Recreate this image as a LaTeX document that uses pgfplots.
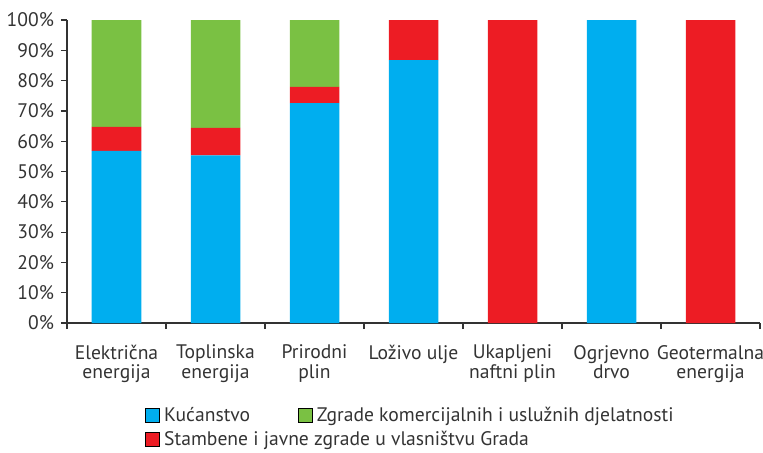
\documentclass[border=0pt]{standalone}
\usepackage{pgfplots}
\pgfplotsset{compat=1.18}
\usepackage{fontspec}
\setmainfont{PT Sans}
\definecolor{cblue}{RGB}{0,174,239}
\definecolor{cred}{RGB}{237,28,36}
\definecolor{cgreen}{RGB}{122,193,67}
\definecolor{ctext}{RGB}{51,51,51}
\begin{document}
\begin{tikzpicture}
\begin{axis}[
  scale only axis,
  width=346.5pt, height=151.5pt,
  ybar stacked, bar width=0.5,
  xmin=-0.5, xmax=6.5, ymin=0, ymax=100,
  axis x line*=bottom, axis y line*=left,
  axis line style={ctext, line width=0.6pt},
  xtick={0,...,6},
  xticklabels={{Električna\\energija},{Toplinska\\energija},{Prirodni\\plin},{Loživo ulje},{Ukapljeni\\naftni plin},{Ogrjevno\\drvo},{Geotermalna\\energija}},
  major x tick style={draw=none},
  minor xtick={-0.5,0.5,...,6.5},
  minor x tick style={ctext, line width=0.6pt},
  minor tick length=3pt,
  ytick={0,10,...,100},
  y tick style={ctext, line width=0.6pt},
  major tick length=3pt,
  tick align=outside,
  yticklabel={\pgfmathprintnumber{\tick}\%},
  /pgf/number format/assume math mode=true,
  ticklabel style={font=\fontsize{9.8}{9.6}\selectfont, text=ctext},
  xticklabel style={align=center, yshift=-4.5pt},
  legend style={draw=none, fill=none, at={(0.1126,-0.262)}, anchor=north west,
    font=\fontsize{9.8}{10}\selectfont, text=ctext, inner sep=0pt,
    row sep=-0.5pt,
    /tikz/every even column/.append style={column sep=22pt}},
  legend columns=2,
  legend cell align=left,
  legend image code/.code={\fill[#1] (0pt,-3.5pt) rectangle (7pt,3.5pt);},
]
\addplot[fill=cblue, draw=none, forget plot] coordinates {(0,56.8) (1,55.3) (2,72.6) (3,86.8) (4,0) (5,100) (6,0)};
\addplot[fill=cred, draw=none, forget plot] coordinates {(0,7.9) (1,9.1) (2,5.3) (3,13.2) (4,100) (5,0) (6,100)};
\addplot[fill=cgreen, draw=none, forget plot] coordinates {(0,35.3) (1,35.6) (2,22.1) (3,0) (4,0) (5,0) (6,0)};
\addlegendimage{fill=cblue}
\addlegendentry{Kućanstvo}
\addlegendimage{fill=cgreen}
\addlegendentry{Zgrade komercijalnih i uslužnih djelatnosti}
\addlegendimage{fill=cred}
\addlegendentry{\makebox[0pt][l]{Stambene i javne zgrade u vlasništvu Grada}}
\coordinate (sw) at (rel axis cs:0,0);
\end{axis}
\pgfresetboundingbox
\path ([xshift=-33.5pt,yshift=-64.5pt]sw) rectangle ([xshift=348pt,yshift=161.5pt]sw);
\end{tikzpicture}
\end{document}
